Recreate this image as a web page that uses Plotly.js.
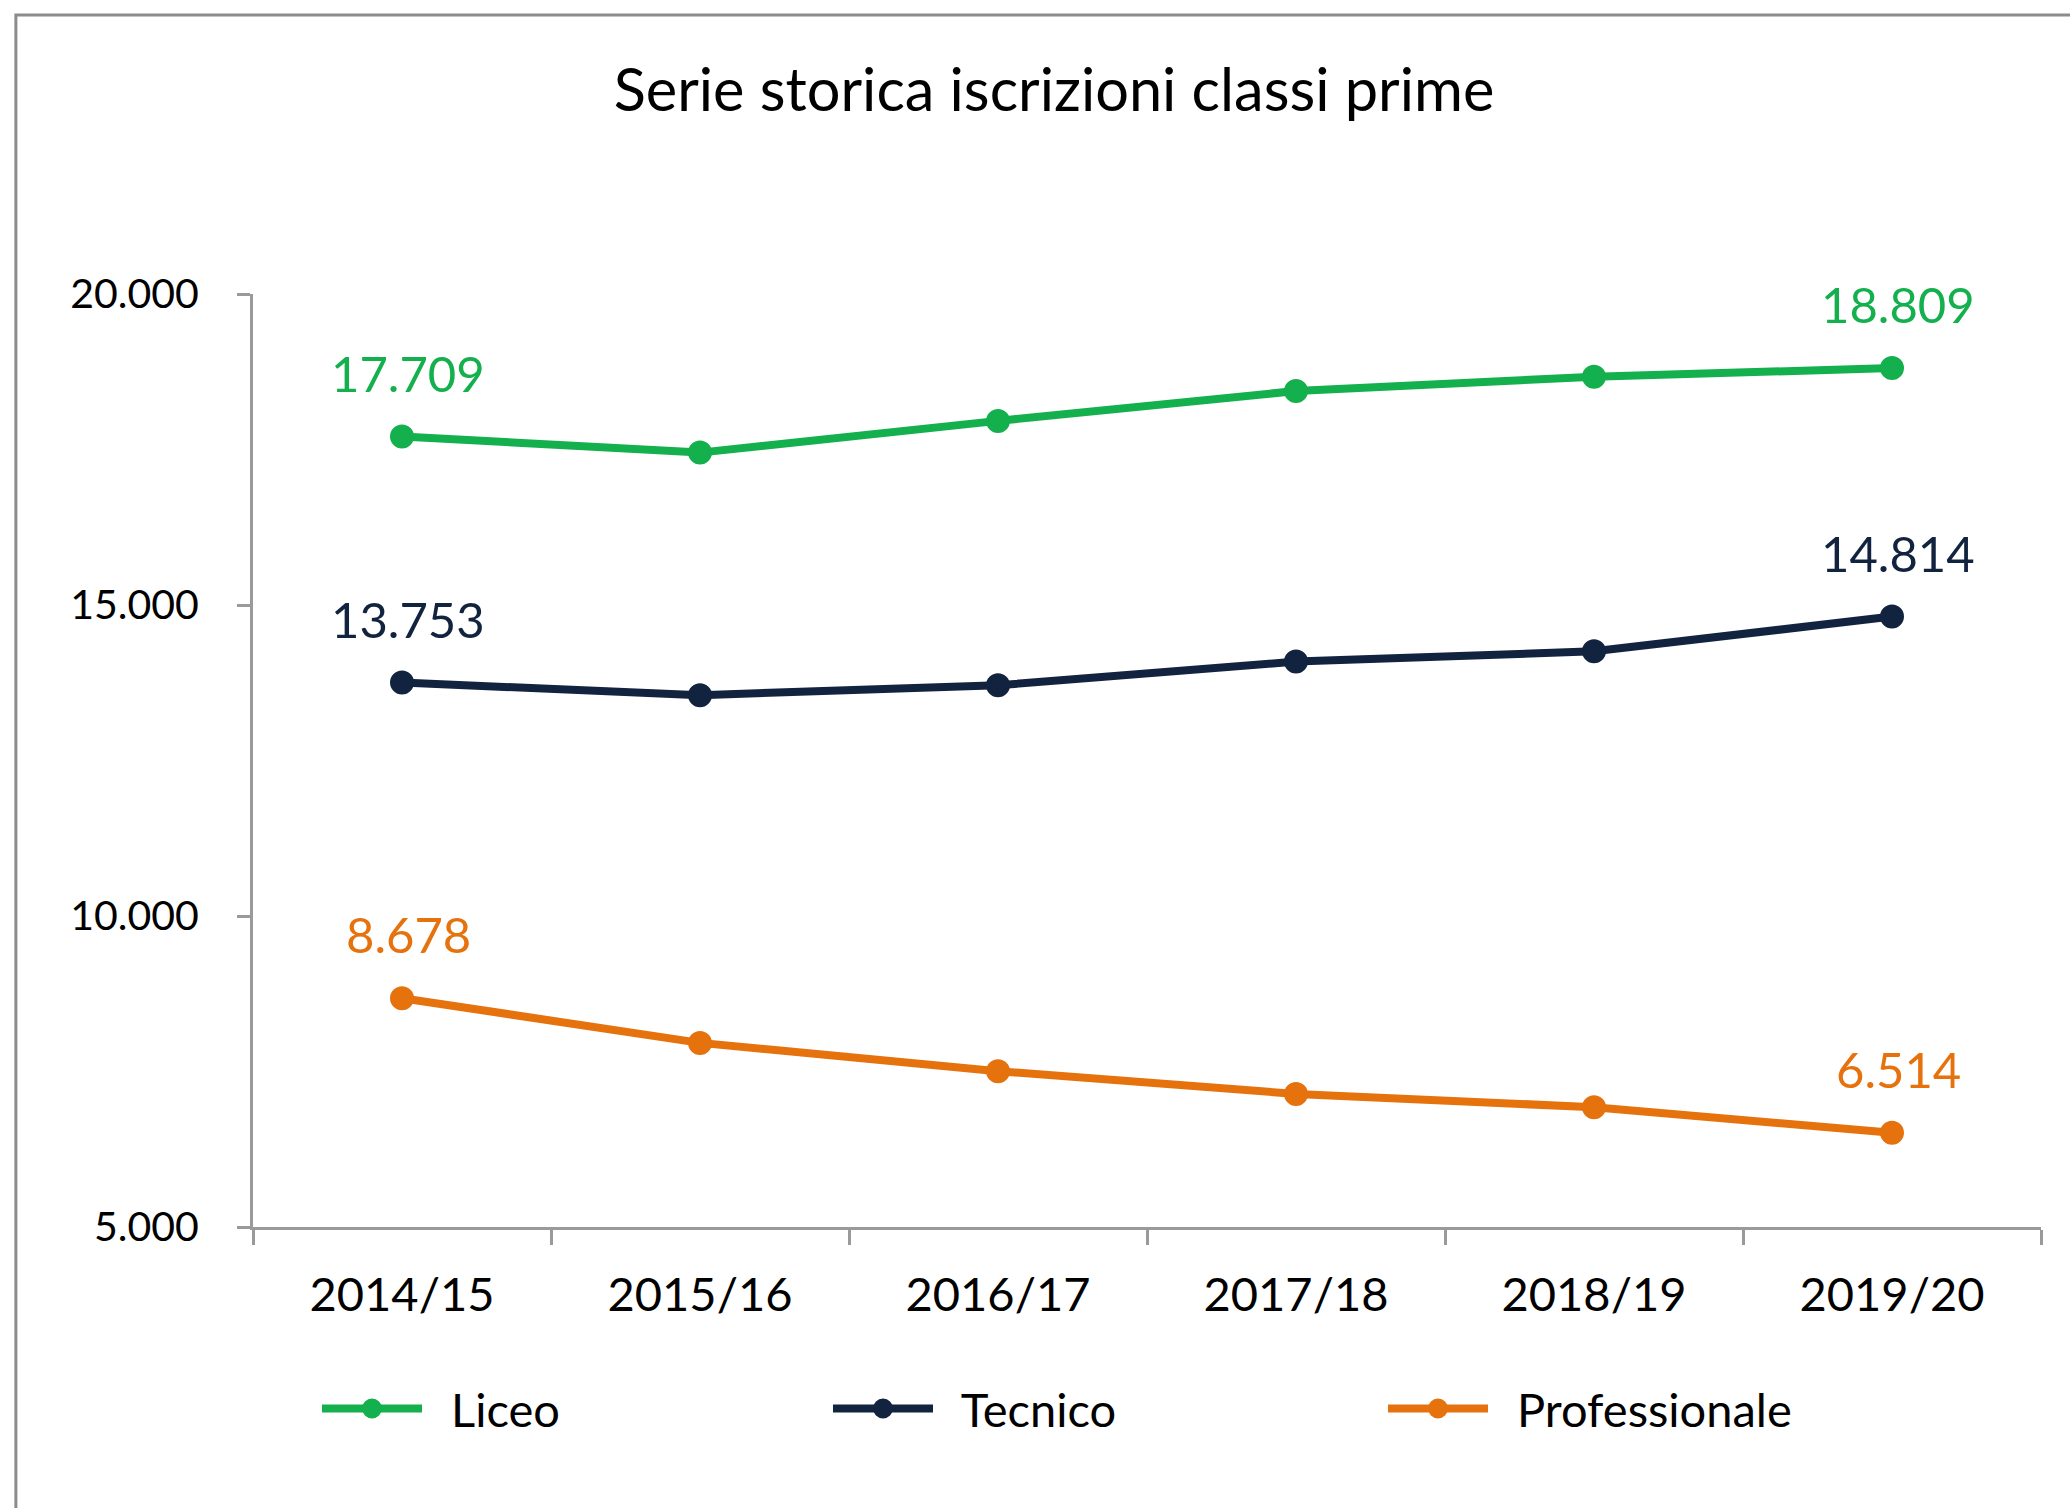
<!DOCTYPE html>
<html>
<head>
<meta charset="utf-8">
<script src="https://cdn.plot.ly/plotly-3.0.1.min.js"></script>
<style>
  html, body { margin: 0; padding: 0; background: #ffffff; }
  #chart { width: 2070px; height: 1508px; }
</style>
</head>
<body>
<div id="chart"></div>
<script>
// ---- data ----
const anni = ['2014/15', '2015/16', '2016/17', '2017/18', '2018/19', '2019/20'];
const liceo = [17709, 17450, 17960, 18440, 18670, 18809];
const tecnico = [13753, 13550, 13710, 14090, 14255, 14814];
const professionale = [8678, 7960, 7505, 7140, 6925, 6514];
const nomiSerie = ['Liceo', 'Tecnico', 'Professionale'];
const titolo = 'Serie storica iscrizioni classi prime';
const yTicks = [5000, 10000, 15000, 20000];
const yTickLabels = ['5.000', '10.000', '15.000', '20.000'];

// ---- styling ----
const FONT = 'Lato, "Open Sans", sans-serif';
const colori = ['#13B04D', '#12233F', '#E6720E'];
const serie = [liceo, tecnico, professionale];

function fmtDot(v) {
  const s = String(Math.round(v));
  return s.replace(/\B(?=(\d{3})+(?!\d))/g, '.');
}

const legendNames = ['legend', 'legend2', 'legend3'];
const NB = '\u00a0\u00a0';
const traces = serie.map((vals, i) => ({
  type: 'scatter',
  mode: 'lines+markers',
  x: anni,
  y: vals,
  name: NB + nomiSerie[i],
  legend: legendNames[i],
  line: { color: colori[i], width: 8 },
  marker: { color: colori[i], size: 20, line: { color: colori[i], width: 4 } },
  cliponaxis: false,
  hoverinfo: 'x+y'
}));

const annotations = [];
serie.forEach((vals, i) => {
  [0, vals.length - 1].forEach(j => {
    annotations.push({
      x: anni[j], y: vals[j], xref: 'x', yref: 'y',
      text: fmtDot(vals[j]),
      showarrow: false,
      xanchor: 'center', yanchor: 'middle',
      xshift: 6, yshift: 64,
      font: { family: FONT, size: 49, color: colori[i] }
    });
  });
});

const legendX = [317, 828, 1383];
const legendBase = {
  orientation: 'h',
  xref: 'container', yref: 'container',
  xanchor: 'left', yanchor: 'middle',
  y: 1 - 1409 / 1508,
  bgcolor: 'rgba(0,0,0,0)',
  borderwidth: 0,
  itemwidth: 100,
  font: { family: FONT, size: 47, color: '#000000' }
};

const layout = {
  width: 2070,
  height: 1508,
  paper_bgcolor: '#ffffff',
  plot_bgcolor: '#ffffff',
  margin: { l: 253, r: 29, t: 294, b: 281, pad: 0 },
  title: {
    text: titolo,
    xref: 'container', yref: 'container',
    x: 1054 / 2070, xanchor: 'center',
    y: 1 - 90 / 1508, yanchor: 'middle',
    font: { family: FONT, size: 59.5, color: '#000000' }
  },
  xaxis: {
    type: 'category',
    range: [-0.5, 5.5],
    tickson: 'boundaries',
    ticks: 'outside',
    ticklen: 15,
    tickwidth: 3,
    tickcolor: '#9a9a9a',
    showline: true,
    linecolor: '#9a9a9a',
    linewidth: 3,
    showgrid: false,
    zeroline: false,
    ticklabelstandoff: 25,
    tickfont: { family: FONT, size: 47, color: '#000000' },
    fixedrange: true
  },
  yaxis: {
    range: [5000, 20000],
    tickvals: yTicks,
    ticktext: yTickLabels,
    ticks: 'outside',
    ticklen: 13,
    tickwidth: 3,
    tickcolor: '#9a9a9a',
    showline: true,
    linecolor: '#9a9a9a',
    linewidth: 3,
    showgrid: false,
    zeroline: false,
    ticklabelstandoff: 30,
    tickfont: { family: FONT, size: 41, color: '#000000' },
    fixedrange: true
  },
  showlegend: true,
  legend: Object.assign({}, legendBase, { x: legendX[0] / 2070 }),
  legend2: Object.assign({}, legendBase, { x: legendX[1] / 2070 }),
  legend3: Object.assign({}, legendBase, { x: legendX[2] / 2070 }),
  annotations: annotations,
  shapes: [{
    type: 'rect', xref: 'paper', yref: 'paper',
    x0: (16 - 253) / 1787, x1: 3,
    y0: -3, y1: (1227 - 15) / 933,
    line: { color: '#8c8c8c', width: 3 },
    fillcolor: 'rgba(0,0,0,0)',
    layer: 'below'
  }]
};

Plotly.newPlot('chart', traces, layout, { displayModeBar: false, staticPlot: true });
</script>
</body>
</html>
